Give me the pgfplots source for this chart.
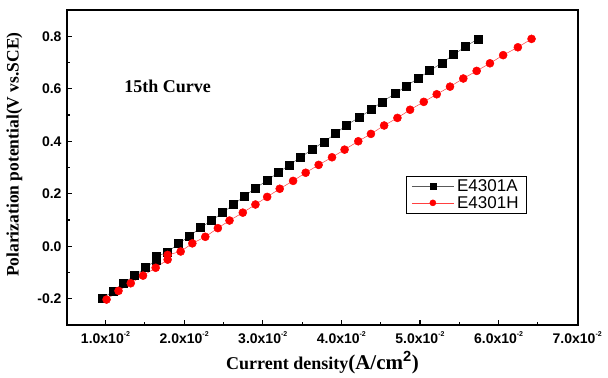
\documentclass[border=0pt]{standalone}
\usepackage{pgfplots}
\pgfplotsset{compat=1.18}
\usepackage{fontspec}
\setmainfont{Liberation Sans}
\newfontfamily\timesf{Liberation Serif}
\newcommand{\xt}[1]{\textbf{#1.0x10}\raisebox{0.9ex}{\fontsize{7}{7}\selectfont\bfseries -2}}
\begin{document}
\begin{tikzpicture}
\begin{axis}[
  scale only axis,
  width=511pt, height=315pt,
  xmin=0.0051, xmax=0.0701,
  ymin=-0.3, ymax=0.9,
  scaled x ticks=false,
  xtick={0.01,0.02,0.03,0.04,0.05,0.06,0.07},
  xticklabels={\xt{1},\xt{2},\xt{3},\xt{4},\xt{5},\xt{6},\xt{7}},
  ytick={-0.2,0,0.2,0.4,0.6,0.8},
  yticklabels={-0.2,0.0,0.2,0.4,0.6,0.8},
  minor tick num=1,
  tick pos=left,
  tick align=inside,
  major tick length=5pt,
  minor tick length=3pt,
  axis line style={line width=1.3pt},
  every tick/.style={line width=1.1pt,black},
  ticklabel style={font=\fontsize{14}{16}\selectfont\bfseries},
  xticklabel style={yshift=-3pt},
  yticklabel style={xshift=-2pt},
  every axis y label/.style={at={(axis description cs:-0.103,0.541)},rotate=90,anchor=center},
  every axis x label/.style={at={(axis description cs:0.5,-0.12)},anchor=center},
  xlabel={\timesf\bfseries\fontsize{18}{20}\selectfont Current density\fontsize{21}{22}\selectfont(A/cm$^{\mathbf{2}}$)},
  ylabel={\timesf\bfseries\fontsize{17.5}{19}\selectfont Polarization potential(V vs.SCE)},
  legend style={at={(0.664,0.473)},anchor=north west,draw=black,line width=0.6pt,
    font=\fontsize{17}{17}\selectfont,inner xsep=5pt,inner ysep=2.5pt,row sep=1pt,
    legend cell align=left,
    nodes={inner xsep=3pt, inner ysep=1pt}},
  legend image code/.code={
    \draw[#1,mark=none] (0pt,0pt) -- (42pt,0pt);
    \draw[#1,only marks,mark size=3pt] plot coordinates {(21pt,0pt)};
  },
]
\addplot[color=black!65, line width=0.5pt, mark=square*, mark size=4pt,
  mark options={fill=black,draw=black}] coordinates {
(0.00953,-0.199) (0.01093,-0.173) (0.0122,-0.142) (0.0137,-0.112) (0.0151,-0.081)
(0.0164,-0.054) (0.0164,-0.039) (0.0178,-0.024) (0.0193,0.010) (0.0206,0.037)
(0.0221,0.071) (0.0235,0.098) (0.0249,0.128) (0.0263,0.159) (0.02759,0.189)
(0.02907,0.221) (0.03051,0.250) (0.03195,0.280) (0.03339,0.310) (0.03482,0.339)
(0.03634,0.370) (0.03779,0.398) (0.03926,0.429) (0.04058,0.460) (0.04227,0.491)
(0.04379,0.520) (0.04515,0.550) (0.04684,0.581) (0.04827,0.611) (0.04980,0.640)
(0.05124,0.669) (0.05284,0.699) (0.05429,0.730) (0.05581,0.761) (0.05737,0.790)
};
\addlegendentry{E4301A}
\addplot[color=red!75, line width=0.5pt, mark=*, mark size=4pt,
  mark options={fill=red,draw=red}] coordinates {
(0.01013,-0.203) (0.01165,-0.170) (0.01321,-0.141) (0.01477,-0.112) (0.01638,-0.082)
(0.0179,-0.051) (0.0179,-0.033) (0.01956,-0.020) (0.02104,0.011) (0.02269,0.036)
(0.02429,0.069) (0.02577,0.098) (0.02746,0.128) (0.02907,0.159) (0.03056,0.188)
(0.03216,0.219) (0.03386,0.249) (0.03546,0.280) (0.03711,0.310) (0.03881,0.339)
(0.04041,0.368) (0.04215,0.400) (0.04376,0.428) (0.04544,0.460) (0.04713,0.489)
(0.04874,0.520) (0.05048,0.550) (0.05213,0.579) (0.05382,0.608) (0.05551,0.639)
(0.05721,0.668) (0.05890,0.697) (0.06058,0.728) (0.06245,0.758) (0.06419,0.790)
};
\addlegendentry{E4301H}
\node[font=\timesf\bfseries\fontsize{18}{20}\selectfont] at (axis cs:0.0179,0.608) {15th Curve};
\end{axis}
\useasboundingbox (-67pt,-51pt) rectangle (541pt,325pt);
\end{tikzpicture}
\end{document}
